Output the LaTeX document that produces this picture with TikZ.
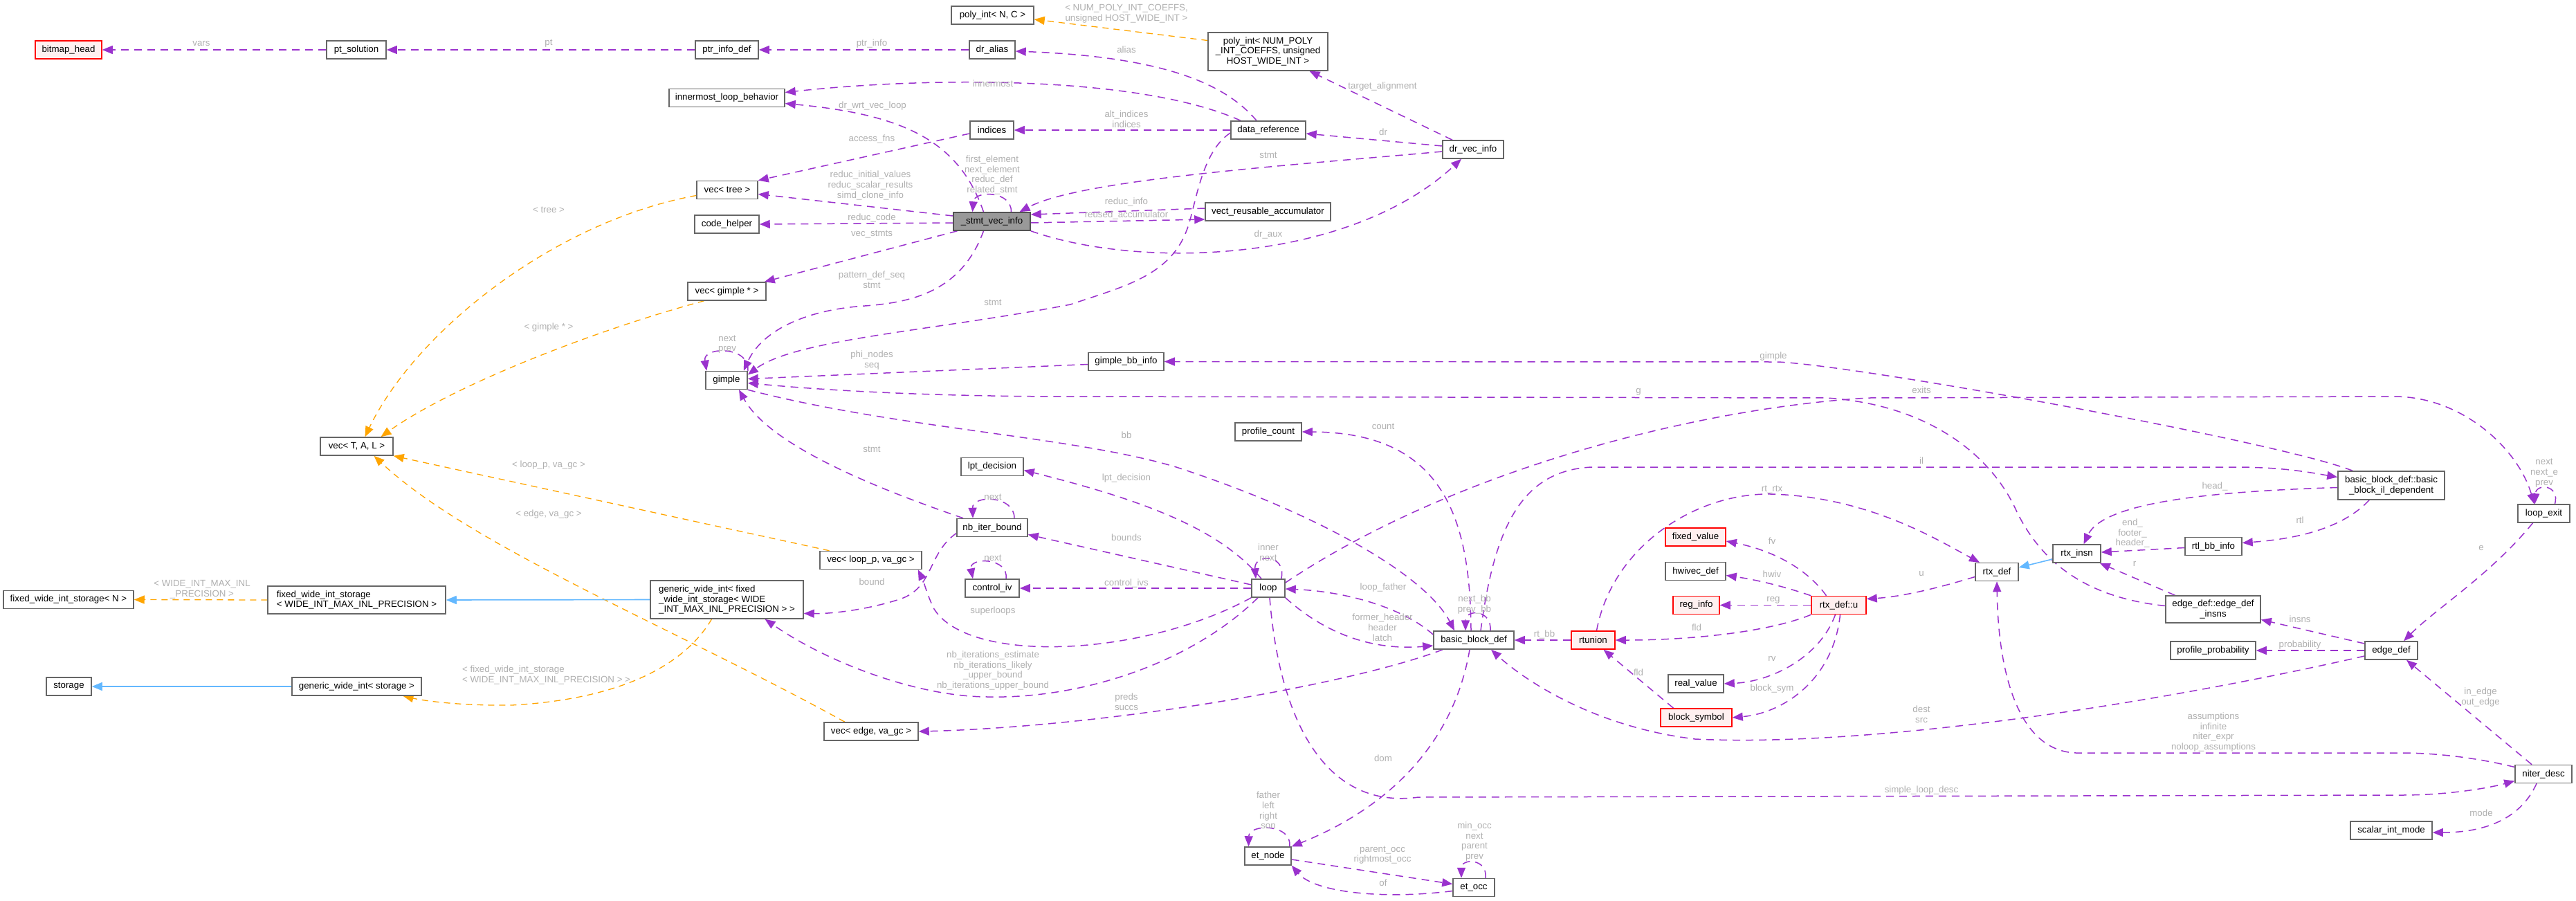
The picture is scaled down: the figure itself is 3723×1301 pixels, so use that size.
\documentclass[tikz,border=0pt]{standalone}
\usepackage{fontspec}
\setmainfont{Liberation Sans}
\usetikzlibrary{arrows.meta}
\definecolor{cPurple}{HTML}{9A32CD}
\definecolor{cOrange}{HTML}{FFA500}
\definecolor{cBlue}{HTML}{63B8FF}
\definecolor{cLabel}{HTML}{B0B0B0}
\definecolor{cBorder}{HTML}{666666}
\definecolor{cRedFill}{HTML}{FFF0F0}
\definecolor{cCenter}{HTML}{999999}
\newcommand\dxf{\fontsize{13.3}{14.8}\selectfont}
\pgfdeclarelayer{bglayer}
\pgfdeclarelayer{edgelayer}
\pgfsetlayers{bglayer,edgelayer,main}
\tikzset{
  bx/.style={draw=cBorder, line width=1.5pt, fill=white, minimum height=26pt, inner sep=2pt, font=\dxf, text=black, align=center},
  rbx/.style={bx, draw=red, fill=cRedFill},
  cbx/.style={bx, fill=cCenter, draw=cBorder!80!black},
  lbl/.style={text=cLabel, font=\dxf, align=center, inner sep=0pt},
  medge/.style={draw=cPurple, line width=1.5pt, dash pattern=on 11pt off 8pt, -{Triangle[length=15pt,width=12pt]}},
  oedge/.style={draw=cOrange, line width=1.3pt, dash pattern=on 9pt off 7pt, -{Triangle[length=15pt,width=12pt]}},
  bedge/.style={draw=cBlue, line width=1.6pt, -{Triangle[length=15pt,width=12pt]}}
}
\begin{document}
\begin{tikzpicture}[x=1pt,y=-1pt]
\begin{pgfonlayer}{bglayer}
\fill[white] (0,0) rectangle (3723,1301);
\end{pgfonlayer}
\useasboundingbox (0,0) rectangle (3723,1301);
% ---------- nodes ----------
\node[rbx, minimum width=96pt] (bitmap) at (99,72) {bitmap\_head};
\node[bx, minimum width=86pt] (ptsol) at (515,72) {pt\_solution};
\node[bx, minimum width=91pt] (ptrinfo) at (1050.5,72) {ptr\_info\_def};
\node[bx, minimum width=66pt] (dralias) at (1434,72) {dr\_alias};
\node[bx, minimum width=119pt] (polyN) at (1434.5,22) {poly\_int< N, C >};
\node[bx, minimum width=173pt, minimum height=55pt] (polyNP) at (1832.5,74.5) {poly\_int< NUM\_POLY\\\_INT\_COEFFS, unsigned\\HOST\_WIDE\_INT >};
\node[bx, minimum width=167pt] (inner) at (1050.5,141.5) {innermost\_loop\_behavior};
\node[bx, minimum width=63pt] (indices) at (1433.5,188) {indices};
\node[bx, minimum width=108pt] (dataref) at (1833,188) {data\_reference};
\node[bx, minimum width=88pt] (drvec) at (2129,216) {dr\_vec\_info};
\node[bx, minimum width=88pt] (vectree) at (1051,274.5) {vec< tree >};
\node[cbx, minimum width=111pt] (svi) at (1433.5,320) {\_stmt\_vec\_info};
\node[bx, minimum width=93pt] (codeh) at (1050.5,324) {code\_helper};
\node[bx, minimum width=181pt] (vra) at (1832.5,306) {vect\_reusable\_accumulator};
\node[bx, minimum width=113pt] (vecgimple) at (1050.5,421) {vec< gimple * >};
\node[bx, minimum width=60pt] (gimple) at (1050,549.5) {gimple};
\node[bx, minimum width=109pt] (gbbinfo) at (1627.5,522.5) {gimple\_bb\_info};
\node[bx, minimum width=105pt] (vecT) at (515.5,645) {vec< T, A, L >};
\node[bx, minimum width=96pt] (pcount) at (1833,624) {profile\_count};
\node[bx, minimum width=90pt] (lpt) at (1434,674.5) {lpt\_decision};
\node[bx, minimum width=102pt] (nbib) at (1434,762.5) {nb\_iter\_bound};
\node[bx, minimum width=147pt] (vecloop) at (1258.5,809.5) {vec< loop\_p, va\_gc >};
\node[bx, minimum width=78pt] (civ) at (1434,850) {control\_iv};
\node[bx, minimum width=48pt] (loop) at (1833,850) {loop};
\node[bx, minimum width=188pt] (fwisN) at (99,866.5) {fixed\_wide\_int\_storage< N >};
\node[bx, minimum width=257pt, minimum height=40pt, align=left] (fwisW) at (515.5,867) {fixed\_wide\_int\_storage\\< WIDE\_INT\_MAX\_INL\_PRECISION >};
\node[bx, minimum width=221pt, minimum height=55pt, align=left] (gwi) at (1050.5,866.5) {generic\_wide\_int< fixed\\\_wide\_int\_storage< WIDE\\\_INT\_MAX\_INL\_PRECISION > >};
\node[bx, minimum width=65pt] (storage) at (99.5,992) {storage};
\node[bx, minimum width=187pt] (gwis) at (515.5,992) {generic\_wide\_int< storage >};
\node[bx, minimum width=136pt] (vecedge) at (1259,1057) {vec< edge, va\_gc >};
\node[bx, minimum width=67pt] (etnode) at (1832.5,1237) {et\_node};
\node[bx, minimum width=60pt] (etocc) at (2130,1282.5) {et\_occ};
\node[bx, minimum width=116pt] (bbd) at (2130,925) {basic\_block\_def};
\node[rbx, minimum width=63pt] (rtunion) at (2302.5,925) {rtunion};
\node[rbx, minimum width=87pt] (fixedv) at (2450.5,776) {fixed\_value};
\node[bx, minimum width=87pt] (hwivec) at (2450.5,825.5) {hwivec\_def};
\node[rbx, minimum width=67pt] (reginfo) at (2451.5,874.5) {reg\_info};
\node[bx, minimum width=80pt] (realv) at (2451,988) {real\_value};
\node[rbx, minimum width=103pt] (blocksym) at (2451.5,1037) {block\_symbol};
\node[rbx, minimum width=79pt] (rtxu) at (2657.5,874.5) {rtx\_def::u};
\node[bx, minimum width=62pt] (rtxdef) at (2886,826.5) {rtx\_def};
\node[bx, minimum width=69pt] (rtxinsn) at (3001.5,800) {rtx\_insn};
\node[bx, minimum width=82pt] (rtlbb) at (3199,789.5) {rtl\_bb\_info};
\node[bx, minimum width=154pt, minimum height=41pt] (bbil) at (3456,701.5) {basic\_block\_def::basic\\\_block\_il\_dependent};
\node[bx, minimum width=75pt] (lexit) at (3676.5,742) {loop\_exit};
\node[bx, minimum width=137pt, minimum height=39pt] (edins) at (3198.5,880.5) {edge\_def::edge\_def\\\_insns};
\node[bx, minimum width=123pt] (pprob) at (3198.5,940) {profile\_probability};
\node[bx, minimum width=76pt] (edgedef) at (3456,940) {edge\_def};
\node[bx, minimum width=82pt] (niter) at (3676,1118.5) {niter\_desc};
\node[bx, minimum width=118pt] (simode) at (3456,1200) {scalar\_int\_mode};
% ---------- edges ----------
\begin{pgfonlayer}{edgelayer}
\draw[medge] (ptsol.west) -- (bitmap.east);
\draw[medge] (ptrinfo.west) -- (ptsol.east);
\draw[medge] (dralias.west) -- (ptrinfo.east);
\draw[medge] ([xshift=-17pt]dataref.north) .. controls (1770,120) and (1680,82) .. ([yshift=-2pt]dralias.east);
\draw[oedge] ([yshift=16pt]polyNP.west) -- ([yshift=-6pt]polyN.east);
\draw[medge] ([xshift=-30pt]drvec.north) -- ([xshift=60pt]polyNP.south);
\draw[medge] ([yshift=5pt]drvec.west) -- ([yshift=-5pt]dataref.east);
\draw[medge] ([yshift=-3pt]drvec.west) .. controls (1850,240) and (1560,260) .. ([xshift=40pt]svi.north);
\draw[medge] ([xshift=-40pt]dataref.north) .. controls (1650,110) and (1350,110) .. ([yshift=8pt]inner.east);
\draw[medge] (dataref.west) -- (indices.east);
\draw[medge] ([xshift=-12pt]svi.north) .. controls (1385,200) and (1300,165) .. ([yshift=-8pt]inner.east);
\draw[medge] ([yshift=-5pt]indices.west) -- (vectree.north east);
\draw[medge] ([yshift=8pt]svi.west) -- ([yshift=-6pt]vectree.east);
\draw[medge] ([xshift=28pt]svi.north) .. controls (1462,275) and (1408,275) .. ([xshift=-28pt]svi.north);
\draw[medge] ([yshift=-2pt]svi.west) -- (codeh.east);
\draw[medge] ([yshift=5pt]vra.west) -- ([yshift=10pt]svi.east);
\draw[medge] ([yshift=-2pt]svi.east) -- ([yshift=-11pt]vra.west);
\draw[medge] (svi.south east) .. controls (1650,390) and (1950,380) .. ([xshift=-17pt]drvec.south);
\draw[medge] ([xshift=-50pt]svi.south) -- ([xshift=-3pt]vecgimple.north east);
\draw[medge] ([xshift=-12pt]svi.south) .. controls (1390,420) and (1320,437) .. (1250,442) .. controls (1160,448) and (1100,480) .. ([xshift=-6pt]gimple.north east);
\draw[medge] ([yshift=-4pt]dataref.west) .. controls (1735,220) and (1728,300) .. (1715,333) .. controls (1690,400) and (1620,415) .. (1547,440) .. controls (1350,478) and (1150,490) .. ([yshift=8pt]gimple.east);
\draw[medge] (gimple.north east) .. controls (1085,500) and (1015,500) .. ([xshift=2pt]gimple.north west);
\draw[medge] ([yshift=-4pt]gbbinfo.west) -- ([yshift=2pt]gimple.east);
\draw[medge] ([xshift=-56pt]bbil.north) .. controls (3300,640) and (2700,530) .. (2570,523) -- (gbbinfo.east);
\draw[medge] ([yshift=5pt]edins.west) .. controls (3000,862) and (2945,800) .. (2915,740) .. controls (2880,660) and (2790,585) .. (2640,575) -- (1550,573) .. controls (1300,573) and (1150,560) .. ([yshift=-4pt]gimple.east);
\draw[medge] ([yshift=8pt]loop.east) .. controls (2100,680) and (2450,590) .. (2700,575) -- (3460,573) .. controls (3560,573) and (3640,650) .. ([xshift=-14pt]lexit.north);
\draw[medge] ([xshift=10pt]bbd.north) .. controls (2160,760) and (2200,680) .. (2300,675) -- (3230,675) .. controls (3300,675) and (3340,683) .. ([yshift=12pt]bbil.west);
\draw[medge] (gimple.south east) .. controls (1300,620) and (1550,630) .. (1700,675) .. controls (1900,740) and (2060,830) .. ([xshift=-28pt]bbd.north);
\draw[medge] ([xshift=-4pt]bbd.north) .. controls (2125,740) and (2080,625) .. (pcount.east);
\draw[medge] ([xshift=24pt]bbd.north) .. controls (2156,880) and (2118,880) .. ([xshift=-12pt]bbd.north);
\draw[medge] ([yshift=8pt]bbd.west) .. controls (2030,880) and (1950,855) .. ([yshift=-1pt]loop.east);
\draw[medge] (loop.south east) .. controls (1920,920) and (1990,940) .. ([yshift=-8pt]bbd.west);
\draw[medge] ([xshift=-45pt]bbd.south) .. controls (1950,990) and (1600,1050) .. (vecedge.east);
\draw[medge] ([xshift=2pt]loop.south) .. controls (1850,1050) and (1920,1170) .. (2050,1152) -- (3470,1149) .. controls (3540,1149) and (3600,1138) .. ([yshift=-10pt]niter.west);
\draw[medge] ([xshift=-6pt]bbd.south) .. controls (2100,1080) and (2000,1170) .. (etnode.north east);
\draw[medge] ([yshift=-8pt]edgedef.west) .. controls (3100,1020) and (2700,1080) .. (2450,1068) .. controls (2300,1050) and (2200,980) .. ([xshift=25pt]bbd.south);
\draw[medge] (rtunion.west) -- (bbd.east);
\draw[medge] (rtxu.south west) .. controls (2560,912) and (2450,925) .. (rtunion.east);
\draw[medge] ([xshift=-5pt]rtxu.south) .. controls (2630,950) and (2560,985) .. (realv.east);
\draw[medge] ([xshift=2pt]rtxu.south) .. controls (2650,980) and (2580,1030) .. (blocksym.east);
\draw[medge] ([xshift=-33pt]blocksym.north) -- ([xshift=15pt]rtunion.south);
\draw[medge] (rtxu.west) -- (reginfo.east);
\draw[medge] ([xshift=-18pt]rtxu.north) .. controls (2610,820) and (2560,795) .. ([yshift=-6pt]fixedv.east);
\draw[medge] (rtxu.north west) .. controls (2580,848) and (2540,838) .. ([yshift=-6pt]hwivec.east);
\draw[medge] ([yshift=-7pt]rtxdef.west) .. controls (2800,850) and (2750,862) .. ([yshift=9pt]rtxu.east);
\draw[medge] ([xshift=5pt]rtunion.north) .. controls (2330,790) and (2450,712) .. (2560,714) .. controls (2700,718) and (2800,780) .. ([xshift=-25pt]rtxdef.north);
\draw[medge] ([yshift=-3pt]bbil.west) .. controls (3200,710) and (3040,725) .. ([xshift=10pt]rtxinsn.north);
\draw[medge] ([xshift=-32pt]bbil.south) .. controls (3380,770) and (3300,780) .. ([yshift=5pt]rtlbb.east);
\draw[medge] ([yshift=-2pt]rtlbb.west) -- ([yshift=2pt]rtxinsn.east);
\draw[bedge] ([yshift=-8pt]rtxinsn.west) -- ([yshift=6.5pt]rtxdef.east);
\draw[medge] ([xshift=-55pt]edins.north) -- ([xshift=-2pt]rtxinsn.south east);
\draw[medge] ([xshift=-16pt]lexit.south) .. controls (3600,830) and (3520,880) .. ([xshift=18pt]edgedef.north);
\draw[medge] ([xshift=16pt]lexit.north) .. controls (3700,700) and (3665,698) .. ([xshift=-13pt]lexit.north);
\draw[medge] ([yshift=10pt]niter.west) .. controls (3580,1095) and (3520,1088) .. (3470,1088) -- (3000,1088) .. controls (2920,1085) and (2888,980) .. (rtxdef.south);
\draw[medge] ([xshift=-17pt]niter.north) -- ([xshift=22pt]edgedef.south);
\draw[medge] ([xshift=-10pt]niter.south) .. controls (3640,1190) and (3580,1203) .. ([yshift=-3pt]simode.east);
\draw[medge] (edgedef.west) -- (pprob.east);
\draw[medge] ([yshift=10pt]edgedef.west) -- ([yshift=-15pt]edins.east);
\draw[medge] ([xshift=-42pt]nbib.north) .. controls (1250,700) and (1110,640) .. ([xshift=18pt]gimple.south);
\draw[medge] ([xshift=32pt]nbib.north) .. controls (1466,715) and (1405,715) .. ([xshift=-28pt]nbib.north);
\draw[medge] ([xshift=-10pt]loop.north) .. controls (1760,760) and (1640,720) .. ([yshift=-5pt]lpt.east);
\draw[medge] ([yshift=5pt]loop.west) -- ([yshift=-10pt]nbib.east);
\draw[medge] ([xshift=-6pt]loop.north east) .. controls (1860,800) and (1812,800) .. ([xshift=-18pt]loop.north);
\draw[medge] (loop.west) -- (civ.east);
\draw[medge] ([xshift=20pt]civ.north) .. controls (1458,805) and (1400,805) .. ([xshift=-28pt]civ.north);
\draw[medge] (loop.south west) .. controls (1650,950) and (1400,960) .. (1350,880) .. controls (1340,860) and (1335,840) .. ([xshift=-6pt]vecloop.south east);
\draw[medge] ([yshift=-8pt]nbib.west) .. controls (1340,800) and (1350,850) .. (1300,866) .. controls (1250,882) and (1200,887) .. ([yshift=-20pt]gwi.east);
\draw[medge] ([xshift=-15pt]loop.south) .. controls (1720,960) and (1560,1010) .. (1428,1007) .. controls (1330,1007) and (1200,960) .. ([xshift=55pt]gwi.south);
\draw[oedge] ([xshift=-60pt]vecloop.north) -- (vecT.south east);
\draw[oedge] ([xshift=-38pt]vecedge.north) .. controls (980,910) and (680,790) .. ([xshift=25pt]vecT.south);
\draw[oedge] ([xshift=-33pt]vecgimple.south) .. controls (850,480) and (650,560) .. ([xshift=35pt]vecT.north);
\draw[oedge] ([yshift=-8pt]vectree.west) .. controls (800,320) and (600,480) .. ([xshift=12pt]vecT.north);
\draw[oedge] (fwisW.west) -- (fwisN.east);
\draw[bedge] (gwi.west) -- (fwisW.east);
\draw[oedge] ([xshift=-22pt]gwi.south) .. controls (990,960) and (900,1010) .. (740,1019) .. controls (660,1020) and (610,1012) .. ([xshift=67pt]gwis.south);
\draw[bedge] (gwis.west) -- (storage.east);
\draw[medge] ([xshift=-3pt]etnode.north east) .. controls (1868,1190) and (1805,1190) .. ([xshift=-28pt]etnode.north);
\draw[medge] ([xshift=17pt]etocc.north) .. controls (2150,1240) and (2112,1240) .. ([xshift=-18pt]etocc.north);
\draw[medge] ([yshift=-5pt]etnode.east) -- ([yshift=5pt]etocc.west);
\draw[medge] ([yshift=-5pt]etocc.west) .. controls (2000,1300) and (1900,1290) .. (etnode.south east);
\end{pgfonlayer}
% ---------- labels ----------
\node[lbl] (l1) at (291,63) {vars};
\node[lbl] (l2) at (793,63) {pt};
\node[lbl] (l3) at (1260,63) {ptr\_info};
\node[lbl] (l4) at (1628,72) {alias};
\node[lbl] (l5) at (1628,19.5) {< NUM\_POLY\_INT\_COEFFS,\\unsigned HOST\_WIDE\_INT >};
\node[lbl] (l6) at (1998,125) {target\_alignment};
\node[lbl] (l7) at (1435,121) {innermost};
\node[lbl] (l8) at (1261,153) {dr\_wrt\_vec\_loop};
\node[lbl] (l9) at (1628,172.5) {alt\_indices\\indices};
\node[lbl] (l10) at (1999,191) {dr};
\node[lbl] (l11) at (1260,201) {access\_fns};
\node[lbl] (l12) at (1833,224) {stmt};
\node[lbl] (l13) at (1434,253) {first\_element\\next\_element\\reduc\_def\\related\_stmt};
\node[lbl] (l14) at (1258,268) {reduc\_initial\_values\\reduc\_scalar\_results\\simd\_clone\_info};
\node[lbl] (l15) at (1628,292) {reduc\_info};
\node[lbl] (l16) at (1628,311) {reused\_accumulator};
\node[lbl] (l17) at (793,303) {< tree >};
\node[lbl] (l18) at (1260,315) {reduc\_code};
\node[lbl] (l19) at (1833,339) {dr\_aux};
\node[lbl] (l20) at (1260,339) {vec\_stmts};
\node[lbl] (l21) at (1260,404.5) {pattern\_def\_seq\\stmt};
\node[lbl] (l22) at (1435,437) {stmt};
\node[lbl] (l23) at (793,473) {< gimple * >};
\node[lbl] (l24) at (1051,497.5) {next\\prev};
\node[lbl] (l25) at (1260,520.5) {phi\_nodes\\seq};
\node[lbl] (l26) at (2563,515) {gimple};
\node[lbl] (l27) at (2777,564) {exits};
\node[lbl] (l28) at (2368,566) {g};
\node[lbl] (l29) at (1999,616) {count};
\node[lbl] (l30) at (1628,629) {bb};
\node[lbl] (l31) at (1260,649) {stmt};
\node[lbl] (l32) at (2777,666) {il};
\node[lbl] (l33) at (3677,683.5) {next\\next\_e\\prev};
\node[lbl] (l34) at (793,672) {< loop\_p, va\_gc >};
\node[lbl] (l35) at (1628,691) {lpt\_decision};
\node[lbl] (l36) at (3201,703) {head\_};
\node[lbl] (l37) at (2561,708) {rt\_rtx};
\node[lbl] (l38) at (1435,718) {next};
\node[lbl] (l39) at (793,743) {< edge, va\_gc >};
\node[lbl] (l40) at (3324,752) {rtl};
\node[lbl] (l41) at (3082,770.5) {end\_\\footer\_\\header\_};
\node[lbl] (l42) at (1628,777) {bounds};
\node[lbl] (l43) at (2561,782) {fv};
\node[lbl] (l44) at (1833,798.5) {inner\\next};
\node[lbl] (l45) at (3586,792) {e};
\node[lbl] (l46) at (1435,806) {next};
\node[lbl] (l47) at (3085,815) {r};
\node[lbl] (l48) at (2777,829) {u};
\node[lbl] (l49) at (2561,830) {hwiv};
\node[lbl] (l50) at (1260,841) {bound};
\node[lbl] (l51) at (1628,843) {control\_ivs};
\node[lbl] (l52) at (292,851.5) {< WIDE\_INT\_MAX\_INL\\\_PRECISION >};
\node[lbl] (l53) at (1999,849) {loop\_father};
\node[lbl] (l54) at (2131,873.5) {next\_bb\\prev\_bb};
\node[lbl] (l55) at (2563,867) {reg};
\node[lbl] (l56) at (1435,883) {superloops};
\node[lbl] (l57) at (1998,906.5) {former\_header\\header\\latch};
\node[lbl] (l58) at (3324,895) {insns};
\node[lbl] (l59) at (2452,907) {fld};
\node[lbl] (l60) at (2232,917) {rt\_bb};
\node[lbl] (l61) at (3324,932) {probability};
\node[lbl] (l62) at (1435,969) {nb\_iterations\_estimate\\nb\_iterations\_likely\\\_upper\_bound\\nb\_iterations\_upper\_bound};
\node[lbl] (l63) at (2561,952) {rv};
\node[lbl, anchor=west, align=left] (l64) at (668,975.5) {< fixed\_wide\_int\_storage\\< WIDE\_INT\_MAX\_INL\_PRECISION > >};
\node[lbl] (l65) at (2368,972) {fld};
\node[lbl] (l66) at (2561,995) {block\_sym};
\node[lbl] (l67) at (3585,1007.5) {in\_edge\\out\_edge};
\node[lbl] (l68) at (1628,1014) {preds\\succs};
\node[lbl] (l69) at (2777,1032.5) {dest\\src};
\node[lbl] (l70) at (3199,1058) {assumptions\\infinite\\niter\_expr\\noloop\_assumptions};
\node[lbl] (l71) at (1999,1096) {dom};
\node[lbl] (l72) at (2777,1142) {simple\_loop\_desc};
\node[lbl] (l73) at (1833,1171) {father\\left\\right\\son};
\node[lbl] (l74) at (3586,1175) {mode};
\node[lbl] (l75) at (2131,1216) {min\_occ\\next\\parent\\prev};
\node[lbl] (l76) at (1998,1235.5) {parent\_occ\\rightmost\_occ};
\node[lbl] (l77) at (1999,1276) {of};
\end{tikzpicture}
\end{document}
